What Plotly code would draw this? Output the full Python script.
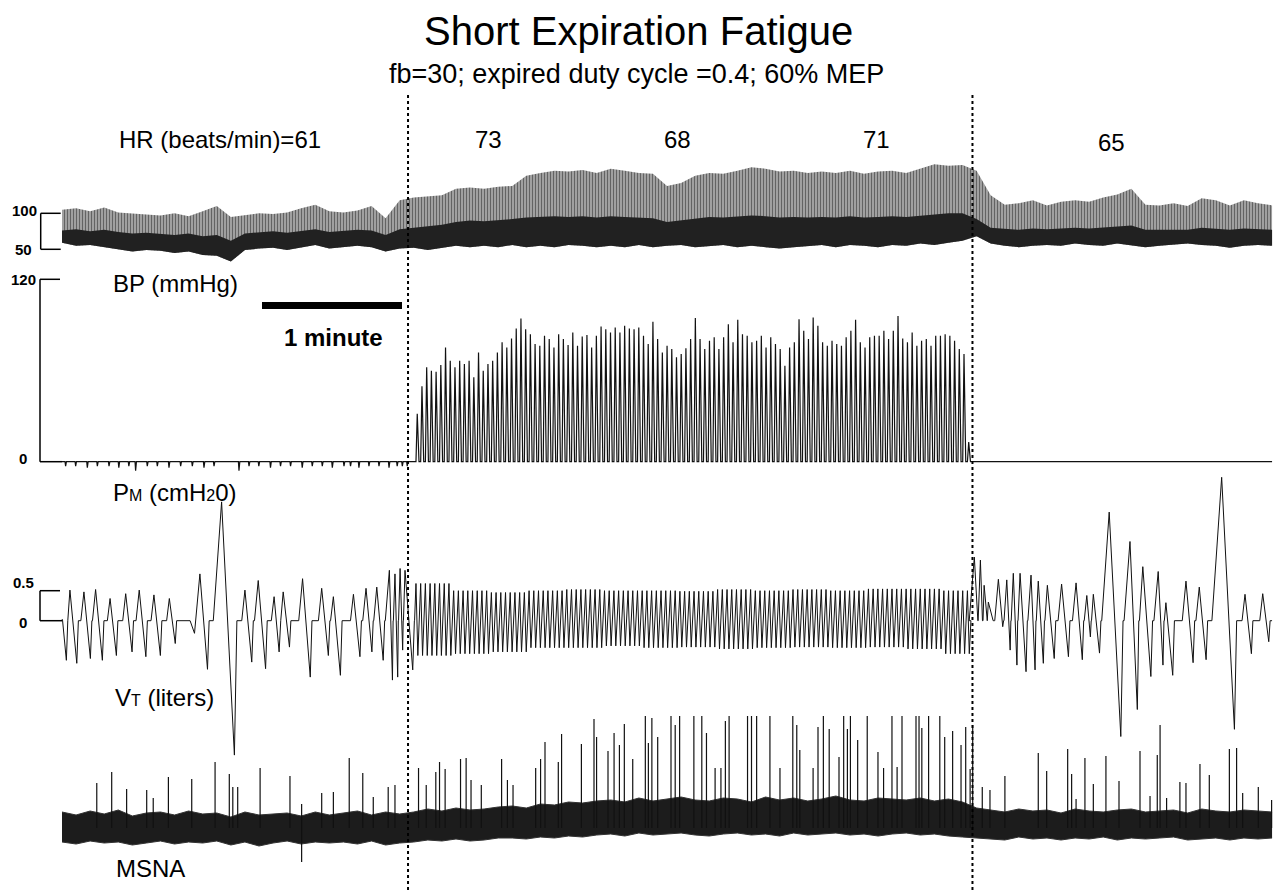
import numpy as np
import plotly.graph_objects as go

# ------------------------------------------------------------------
# DATA  (time in seconds from start of record)
# ------------------------------------------------------------------
fatigue_marks_t = [148.3, 390.2]          # start / end of loaded breathing
hr_texts = ["HR (beats/min)=61", "73", "68", "71", "65"]
hr_text_t = [67.9, 182.6, 263.6, 348.9, 449.6]

# envelope samples (BP and MSNA background)
sample_t = np.linspace(0, 518.6, 87)

bp_sys = [105, 107, 103, 108, 101, 100, 99, 97, 100, 96, 103, 110, 95, 97, 100, 99, 101, 107, 112, 103, 101, 104, 110, 93, 118,
          122, 123, 125, 134, 136, 134, 137, 138, 152, 156, 159, 158, 160, 156, 162, 159, 156, 155, 138, 142, 152, 156, 155, 159, 164,
          162, 158, 159, 156, 158, 156, 159, 155, 158, 159, 156, 162, 168, 166, 167, 159,
          125, 112, 114, 118, 111, 116, 118, 116, 122, 126, 134, 112, 111, 114, 110, 121, 118, 111, 118, 114, 111]
bp_mean = [76, 78, 75, 77, 74, 72, 73, 71, 70, 72, 68, 70, 62, 72, 74, 75, 73, 76, 78, 74, 75, 77, 76, 70, 78,
           80, 82, 84, 88, 90, 89, 90, 92, 94, 95, 96, 95, 96, 94, 96, 95, 94, 93, 88, 90, 93, 95, 94, 95, 97,
           96, 94, 95, 94, 95, 94, 96, 94, 95, 96, 95, 97, 99, 100, 100, 92,
           80, 78, 77, 79, 78, 79, 80, 79, 80, 81, 83, 77, 77, 78, 77, 80, 79, 77, 79, 78, 77]
bp_dia = [59, 55, 56, 53, 51, 47, 49, 48, 45, 47, 42, 41, 33, 49, 51, 52, 49, 53, 56, 51, 53, 55, 53, 47, 51,
          52, 49, 52, 55, 53, 55, 53, 56, 53, 55, 53, 56, 55, 53, 55, 53, 56, 53, 55, 56, 53, 55, 56, 53, 55,
          53, 51, 53, 55, 56, 53, 56, 55, 53, 56, 55, 58, 56, 59, 62, 68,
          58, 55, 53, 55, 56, 55, 58, 56, 55, 58, 56, 53, 55, 56, 58, 56, 55, 52, 55, 56, 55]

# mouth pressure: one peak per loaded breath (cmH2O)
pm_first_breath_t = 151.7
pm_breath_period = 2.02
pm_peaks = [31.5, 49.6, 62.1, 59.9, 59.2, 63.6, 75.2, 66.4, 62.1, 66.4, 64.3, 66.4, 55.5, 71.9, 59.9,
            64.3, 66.4, 71.9, 78.5, 75.2, 81.1, 87.7, 94.2, 87.2, 83.9, 77.4, 76.3, 82.8, 80.7, 75.2,
            83.9, 80.7, 76.8, 85.0, 76.3, 82.4, 83.3, 75.2, 82.8, 89.0, 87.2, 85.0, 88.3, 85.0, 89.4,
            87.7, 87.2, 88.3, 82.8, 77.4, 92.0, 80.7, 71.9, 76.3, 74.1, 68.7, 70.8, 74.6, 80.7, 94.6,
            80.7, 74.1, 79.6, 81.8, 74.1, 81.8, 90.5, 78.5, 93.3, 83.9, 82.8, 78.5, 79.6, 82.8, 75.2,
            81.8, 77.4, 74.1, 63.2, 75.2, 78.5, 93.7, 86.1, 80.7, 94.8, 89.4, 78.5, 76.3, 79.6, 77.4,
            76.3, 81.8, 86.1, 93.3, 78.5, 75.2, 81.8, 82.8, 82.8, 86.1, 80.7, 86.1, 95.9, 81.1, 78.5,
            85.0, 76.3, 79.6, 80.7, 76.3, 82.8, 82.8, 83.9, 82.8, 79.6, 74.1, 70.8, 12.9]
# small negative mouth-pressure deflections during free breathing (time s, cmH2O)
pm_dip_t = [1.3, 5.6, 10.6, 14.9, 19.9, 24.1, 28.4, 31.3, 36.3, 40.6, 45.6, 50.6, 55.6, 60.6, 64.9, 75.6,
            79.9, 84.1, 89.1, 93.4, 97.7, 102.7, 107.0, 111.3, 115.6, 120.6, 123.4, 127.0, 131.3, 135.6,
            139.9, 143.4, 145.6, 147.7]
pm_dip_v = [-3, -3, -4, -3, -3, -4, -3, -6, -3, -3, -4, -3, -3, -4, -3, -6,
            -3, -3, -4, -3, -3, -4, -3, -3, -4, -3, -3, -4, -3, -3,
            -4, -3, -3, -3]

# tidal volume, free breathing before loading (peak time s, peak L, trough L)
vt_pre_t = [0.2, 3.4, 9.4, 14.4, 20.6, 27.3, 33.1, 39.4, 46.0, 54.9, 59.1, 68.4, 78.4, 84.1, 90.9, 94.8,
            103.1, 111.3, 116.3, 124.9, 130.3, 134.9, 140.3, 142.7, 144.9, 147.0]
vt_pre_peak = [0.02, 0.51, 0.48, 0.52, 0.37, 0.45, 0.51, 0.43, 0.37, 0.0, 0.78, 1.98, 0.51, 0.67, 0.40, 0.48,
               0.70, 0.54, 0.40, 0.44, 0.54, 0.56, 0.84, 0.78, 0.87, 0.84]
vt_pre_trough = [-0.66, -0.71, -0.63, -0.66, -0.58, -0.52, -0.60, -0.58, -0.38, -0.21, -0.81, -2.24, -0.69, -0.80,
                 -0.52, -0.44, -0.94, -0.58, -0.91, -0.60, -0.52, -0.66, -0.99, -0.94, -0.49, -0.82]
# tidal volume during loading, per block of 8 breaths
vt_load_peak = [0.62, 0.50, 0.47, 0.50, 0.52, 0.50, 0.50, 0.49, 0.52, 0.50, 0.52, 0.50, 0.53, 0.53, 0.50]
vt_load_trough = [-0.58, -0.55, -0.52, -0.45, -0.45, -0.42, -0.45, -0.44, -0.47, -0.45, -0.44, -0.45, -0.44, -0.47, -0.55]
# tidal volume, recovery
vt_post_t = [391.0, 393.6, 395.2, 397.0, 401.3, 404.9, 407.7, 410.6, 415.3, 418.4, 422.3, 428.4, 434.6, 439.2,
             442.0, 448.8, 457.7, 463.2, 469.8, 473.1, 481.7, 487.4, 497.0, 507.0, 514.6]
vt_post_peak = [1.06, 1.01, 0.59, 0.31, 0.69, 0.68, 0.79, 0.79, 0.76, 0.66, 0.59, 0.61, 0.63, 0.42, 0.44,
                1.81, 1.32, 0.90, 0.82, 0.30, 0.66, 0.56, 2.39, 0.44, 0.45]
vt_post_trough = [0, 0, 0, 0, -0.10, -0.49, -0.74, -0.85, -0.82, -0.71, -0.63, -0.60, -0.65, -0.27, -0.54,
                  -1.93, -1.48, -0.93, -0.74, -0.91, -0.70, -0.65, -1.81, -0.55, -0.35]

# MSNA background band (a.u.)
msna_hi = [1.6, 1.3, 1.7, 1.4, 1.8, 1.2, 1.5, 1.6, 1.3, 1.7, 1.4, 1.5, 1.1, 1.6, 1.3, 1.4, 1.5, 1.2, 1.6, 1.3, 1.5, 1.7, 1.3, 1.6, 1.4,
           1.6, 1.9, 1.7, 2.0, 1.8, 1.9, 2.1,
           2.2, 2.0, 2.4, 2.3, 2.6, 2.5, 2.7,
           2.8, 2.6, 3.0, 2.7, 2.9, 3.1, 2.8, 2.7, 3.0, 2.9, 2.6, 3.1, 2.8, 3.0, 2.7, 2.9, 3.2, 2.8, 2.7, 3.0, 2.9, 2.8, 3.0, 2.7, 2.9, 2.6,
           2.0, 1.8, 1.6, 1.9, 1.7, 1.8, 1.5, 1.9, 1.7, 1.6, 1.8, 1.9, 1.6, 1.7, 1.8, 1.5, 1.9, 1.7, 1.6, 1.8, 1.7, 1.6]
msna_lo = [-1.4, -1.6, -1.3, -1.5, -1.4, -1.7, -1.5, -1.3, -1.6, -1.4, -1.5, -1.3, -1.7, -1.4, -1.8, -1.5, -1.3, -1.6, -1.4, -1.5, -1.4, -1.6, -1.3, -1.7, -1.5,
           -1.4, -1.2, -1.3, -1.1, -1.3, -1.2, -1.0,
           -1.0, -1.1, -0.9, -1.0, -0.8, -0.9, -0.7,
           -0.6, -0.8, -0.5, -0.7, -0.6, -0.5, -0.7, -0.8, -0.6, -0.5, -0.7, -0.6, -0.8, -0.5, -0.7, -0.6, -0.5, -0.7, -0.6, -0.8, -0.6, -0.5, -0.7, -0.6, -0.8, -0.9,
           -1.0, -1.1, -1.2, -0.9, -1.1, -1.0, -1.2, -1.0, -1.1, -0.9, -1.2, -1.0, -1.1, -1.0, -0.9, -1.2, -1.1, -1.0, -1.2, -1.0, -1.1, -1.0]
# MSNA bursts (time s, amplitude a.u.)
burst_t = [14.9, 21.3, 27.7, 36.3, 39.1, 45.6, 55.6, 65.6, 71.7, 73.2, 75.3, 84.9, 97.7, 102.7, 102.7, 111.3, 116.3,
           123.1, 128.9, 133.4, 139.8, 142.7,
           152.8, 156.1, 160.2, 161.8, 164.2, 170.8, 173.2, 175.3, 179.7, 188.4, 190.9, 193.3, 203.0, 205.1, 207.0,
           212.7, 214.1, 222.6, 228.0, 229.1, 234.0, 236.6, 238.9, 241.0, 244.6, 250.0, 251.3, 252.8, 255.3, 261.0,
           262.8, 264.7, 270.8, 274.2, 276.2, 279.9, 282.4, 284.3, 285.9, 293.8, 295.5, 297.7, 303.4, 307.7, 313.2,
           314.9, 316.2, 321.9, 324.0, 326.3, 328.8, 333.0, 335.0, 336.6, 337.9, 341.0, 345.1, 349.7, 352.1, 355.7,
           357.9, 360.0, 366.0, 367.3, 368.5, 371.4, 376.2, 378.3, 381.7, 385.3, 387.3, 389.2,
           390.3, 394.4, 397.7, 404.1, 418.4, 422.0, 431.0, 432.7, 434.6, 438.4, 442.0, 447.4, 453.0, 462.0, 466.3,
           469.4, 470.6, 473.4, 479.1, 481.7, 487.7, 491.7, 500.3, 503.4, 506.0, 512.7, 518.4]
burst_amp = [4.5, 5.6, 3.9, 3.8, 3.0, 5.1, 4.9, 6.6, 5.4, 4.1, 4.1, 6.0, 5.2, 2.4, -3.4, 3.5, 3.6,
             7.0, 5.5, 3.1, 4.1, 4.3,
             6.0, 4.3, 5.6, 6.6, 5.9, 6.9, 7.0, 4.8, 4.3, 6.9, 4.8, 4.3, 6.0, 6.9, 8.6,
             6.6, 9.4, 8.4, 10.9, 9.1, 7.7, 9.5, 8.3, 10.4, 6.9, 11.2, 8.5, 11.0, 9.1, 11.2,
             10.3, 11.2, 11.2, 11.2, 9.5, 6.0, 6.0, 10.7, 11.2, 11.2, 11.2, 11.2, 11.2, 6.0, 11.2,
             10.3, 7.8, 6.0, 10.1, 11.2, 9.9, 7.1, 11.2, 9.9, 11.2, 8.8, 11.2, 7.6, 6.0, 11.2,
             6.1, 11.2, 11.2, 11.2, 10.0, 11.2, 11.2, 9.1, 9.7, 8.3, 10.1, 5.9,
             10.3, 4.1, 3.8, 5.2, 7.5, 5.7, 7.9, 5.4, 2.9, 7.0, 4.4, 7.2, 4.7, 7.7, 3.2,
             7.3, 10.3, 3.0, 4.6, 4.5, 6.4, 5.3, 7.9, 8.0, 3.5, 4.1, 2.8]

RECORD_END = 518.6

# ------------------------------------------------------------------
# LAYOUT CONSTANTS (pixel geometry of the page)
# ------------------------------------------------------------------
W, H = 1275, 890
PX_PER_S = 140 / 60.0          # 1-minute scale bar is 140 px
X0_PX = 62                     # pixel of t = 0
FONT = "Liberation Sans, Arial, Helvetica, sans-serif"
INK = "#111111"


def px(x):
    return x / W


def py(y):
    return 1 - y / H


def axis_range(v_a, px_a, v_b, px_b):
    k = (px_b - px_a) / (v_a - v_b)   # px per unit (screen y grows downward)
    top = v_a + px_a / k
    bottom = v_a - (H - px_a) / k
    return [bottom, top]


# ------------------------------------------------------------------
# BUILD WAVEFORMS
# ------------------------------------------------------------------
def breath_path(tp, pk, tr):
    n = len(tp)
    r = [0.6 + 1.5 * p for p in pk]
    f = [1.9 + 0.85 * (p - q) for p, q in zip(pk, tr)]
    g = [0.5 + 0.25 * abs(q) for q in tr]
    for i in range(n - 1):
        gap = tp[i + 1] - tp[i]
        need = f[i] + g[i] + r[i + 1]
        if need > 0.95 * gap:
            s = 0.95 * gap / need
            f[i] *= s
            g[i] *= s
            r[i + 1] *= s
    xs, ys = [], []
    for i in range(n):
        xs += [tp[i] - r[i], tp[i], tp[i] + f[i], tp[i] + f[i] + g[i]]
        ys += [0, pk[i], tr[i], 0]
    return xs, ys


breath_t = [pm_first_breath_t + pm_breath_period * i for i in range(len(pm_peaks))]

# PM
pm_x, pm_y = [0.0], [0.0]
for t, d in zip(pm_dip_t, pm_dip_v):
    pm_x += [t, t + 0.25, t + 0.6]
    pm_y += [0, d, 0]
for t, p in zip(breath_t, pm_peaks):
    pm_x += [t, t + 0.55, t + 1.3]
    pm_y += [0, p, 0]
pm_x.append(RECORD_END)
pm_y.append(0)

# VT
vx, vy = breath_path(vt_pre_t, vt_pre_peak, vt_pre_trough)
vx.append(breath_t[0] - 0.6)
vy.append(0)
for i, t in enumerate(breath_t):
    gidx = min(i // 8, len(vt_load_peak) - 1)
    vx += [t, t + 0.8]
    vy += [vt_load_peak[gidx], vt_load_trough[gidx]]
vx.append(breath_t[-1] + 1.5)
vy.append(0)
px_post, py_post = breath_path(vt_post_t, vt_post_peak, vt_post_trough)
vx += px_post
vy += py_post
vx.append(RECORD_END)
vy.append(0)

# MSNA bursts
bx, by = [], []
for t, a in zip(burst_t, burst_amp):
    bx += [t, t, None]
    by += [0, a, None]

# ------------------------------------------------------------------
# FIGURE
# ------------------------------------------------------------------
fig = go.Figure()
CLEAR = "rgba(0,0,0,0)"

# BP: hatched beat band and dense diastolic band
fig.add_trace(go.Scatter(x=sample_t, y=bp_dia, yaxis="y", mode="lines",
                         line=dict(width=0, color=CLEAR), hoverinfo="skip"))
fig.add_trace(go.Scatter(x=sample_t, y=bp_sys, yaxis="y", mode="lines", fill="tonexty",
                         line=dict(width=0, color=CLEAR), fillcolor=CLEAR,
                         fillpattern=dict(shape="|", size=3, solidity=0.5, fgcolor="#111111",
                                          bgcolor="#b4b4b4"),
                         hoverinfo="skip"))
fig.add_trace(go.Scatter(x=sample_t, y=bp_dia, yaxis="y", mode="lines",
                         line=dict(width=0, color=CLEAR), hoverinfo="skip"))
fig.add_trace(go.Scatter(x=sample_t, y=bp_mean, yaxis="y", mode="lines", fill="tonexty",
                         line=dict(width=0, color=CLEAR), fillcolor=CLEAR,
                         fillpattern=dict(shape="|", size=2, solidity=0.7, fgcolor="#000000",
                                          bgcolor="#333333"),
                         hoverinfo="skip"))

# PM
fig.add_trace(go.Scatter(x=pm_x, y=pm_y, yaxis="y2", mode="lines",
                         line=dict(width=1.2, color=INK), hoverinfo="skip"))
# VT
fig.add_trace(go.Scatter(x=vx, y=vy, yaxis="y3", mode="lines",
                         line=dict(width=1, color=INK), hoverinfo="skip"))
# MSNA band + bursts
fig.add_trace(go.Scatter(x=sample_t, y=msna_lo, yaxis="y4", mode="lines",
                         line=dict(width=1, color="#333"), hoverinfo="skip"))
fig.add_trace(go.Scatter(x=sample_t, y=msna_hi, yaxis="y4", mode="lines", fill="tonexty",
                         line=dict(width=1, color="#333"), fillcolor=CLEAR,
                         fillpattern=dict(shape="|", size=2, solidity=0.65, fgcolor="#000000",
                                          bgcolor="#2a2a2a"),
                         hoverinfo="skip"))
fig.add_trace(go.Scatter(x=bx, y=by, yaxis="y4", mode="lines",
                         line=dict(width=1.2, color=INK), hoverinfo="skip"))

x_range = [-X0_PX / PX_PER_S, (W - X0_PX) / PX_PER_S]
bp_range = axis_range(100, 213.3, 50, 249.3)
pm_range = axis_range(120, 279.3, 0, 461.7)
vt_range = axis_range(0.5, 590.7, 0, 620.7)
ms_range = axis_range(10, 728.0, 0, 828.0)

hidden = dict(visible=False, fixedrange=True, showgrid=False, zeroline=False)
fig.update_layout(
    width=W, height=H, margin=dict(l=0, r=0, t=0, b=0),
    paper_bgcolor="white", plot_bgcolor="white", showlegend=False,
    xaxis=dict(range=x_range, **hidden),
    yaxis=dict(range=bp_range, domain=[0, 1], **hidden),
    yaxis2=dict(range=pm_range, overlaying="y", **hidden),
    yaxis3=dict(range=vt_range, overlaying="y", **hidden),
    yaxis4=dict(range=ms_range, overlaying="y", **hidden),
    font=dict(family=FONT, color="black"),
)

shapes = []
# dotted event lines
for t in fatigue_marks_t:
    shapes.append(dict(type="line", xref="x", yref="paper", x0=t, x1=t, y0=0, y1=py(93),
                       line=dict(color="black", width=2, dash="dot")))
# scale bar 1 minute
shapes.append(dict(type="line", xref="x", yref="paper",
                   x0=(262 - X0_PX) / PX_PER_S, x1=(262 - X0_PX) / PX_PER_S + 60,
                   y0=py(305.5), y1=py(305.5), line=dict(color="black", width=7)))
# calibration brackets / axis
for (xa, ya, xb, yb, ref) in [
    (40.7, 50, 40.7, 100, "y"), (40.7, 100, 60.7, 100, "y"), (40.7, 50, 60.7, 50, "y"),
    (40, 0, 40, 120, "y2"), (40, 120, 60, 120, "y2"), (40, 0, 62, 0, "y2"),
    (40, 0, 40, 0.5, "y3"), (40, 0.5, 60, 0.5, "y3"), (40, 0, 62, 0, "y3"),
]:
    shapes.append(dict(type="line", xref="paper", yref=ref, x0=px(xa), x1=px(xb), y0=ya, y1=yb,
                       line=dict(color="black", width=1.5)))
fig.update_layout(shapes=shapes)

ann = []


def text(x, y, s, size, bold=False, xref="paper", yref="paper", yshift=0, xanchor="center"):
    ann.append(dict(x=x, y=y, xref=xref, yref=yref, text=s, showarrow=False, xanchor=xanchor,
                    yanchor="middle", yshift=yshift,
                    font=dict(family=FONT, size=size, color="black", weight="bold" if bold else "normal")))


text(px(638), py(31), "Short Expiration Fatigue", 40)
text(px(636), py(74), "fb=30; expired duty cycle =0.4; 60% MEP", 27)
for s, t, yy in zip(hr_texts, hr_text_t, [140, 140, 140, 140, 143]):
    text(t, py(yy), s, 24, xref="x")
text(px(175.5), py(283), "BP (mmHg)", 24)
text(px(333), py(338), "1 minute", 24, bold=True)
text(px(175.5), py(492), "P<span style='font-size:16px'>M</span> (cmH<span style='font-size:16px'>2</span>0)", 24)
text(px(164.5), py(697), "V<span style='font-size:16px'>T</span> (liters)", 24)
text(px(150), py(868), "MSNA", 24)
# scale numbers
text(px(24.5), 100, "100", 15, bold=True, yref="y", yshift=3)
text(px(23.5), 50, "50", 15, bold=True, yref="y")
text(px(23.5), 120, "120", 15, bold=True, yref="y2")
text(px(22.5), 0, "0", 15, bold=True, yref="y2", yshift=3)
text(px(23.5), 0.5, "0.5", 15, bold=True, yref="y3", yshift=8)
text(px(22.5), 0, "0", 15, bold=True, yref="y3", yshift=-2)
fig.update_layout(annotations=ann)

fig.write_html("out.html")
